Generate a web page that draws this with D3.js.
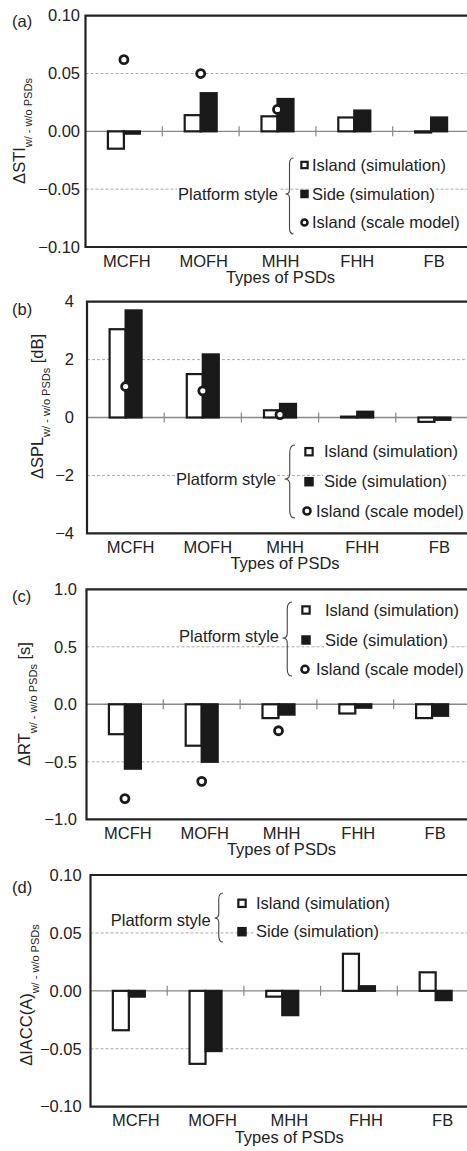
<!DOCTYPE html>
<html>
<head>
<meta charset="utf-8">
<script src="https://cdn.jsdelivr.net/npm/d3@7"></script>
<style>
  html, body { margin: 0; padding: 0; background: #fff; }
  svg { display: block; overflow: hidden; }
  text { font-family: "Liberation Sans", Arial, Helvetica, sans-serif; fill: #222; }
</style>
</head>
<body>
<svg id="chart" width="467" height="1151"></svg>
<script>
// ---------------- DATA ----------------
const categories = ["MCFH", "MOFH", "MHH", "FHH", "FB"];
const seriesLabels = ["Island (simulation)", "Side (simulation)", "Island (scale model)"];
const legendTitle = "Platform style";
const xTitle = "Types of PSDs";

// (a) ΔSTI
const stiIsland = [-0.015, 0.014, 0.013, 0.012, -0.001];
const stiSide   = [-0.002, 0.033, 0.028, 0.018, 0.012];
const stiModel  = [0.062, 0.050, 0.019, null, null];
const stiTicks = [0.10, 0.05, 0, -0.05, -0.10];
const stiTickLabels = ["0.10", "0.05", "0.00", "\u22120.05", "\u22120.10"];

// (b) ΔSPL [dB]
const splIsland = [3.05, 1.50, 0.25, 0.03, -0.15];
const splSide   = [3.70, 2.18, 0.47, 0.20, -0.08];
const splModel  = [1.07, 0.92, 0.10, null, null];
const splTicks = [4, 2, 0, -2, -4];
const splTickLabels = ["4", "2", "0", "\u22122", "\u22124"];

// (c) ΔRT [s]
const rtIsland = [-0.26, -0.36, -0.12, -0.08, -0.12];
const rtSide   = [-0.56, -0.50, -0.09, -0.03, -0.10];
const rtModel  = [-0.82, -0.67, -0.23, null, null];
const rtTicks = [1.0, 0.5, 0, -0.5, -1.0];
const rtTickLabels = ["1.0", "0.5", "0.0", "\u22120.5", "\u22121.0"];

// (d) ΔIACC(A)
const iaccIsland = [-0.034, -0.063, -0.005, 0.032, 0.016];
const iaccSide   = [-0.005, -0.052, -0.021, 0.004, -0.008];
const iaccTicks = [0.10, 0.05, 0, -0.05, -0.10];
const iaccTickLabels = ["0.10", "0.05", "0.00", "\u22120.05", "\u22120.10"];

// ---------------- LAYOUT ----------------
const FS = 16.5, LFS = 16.5, SUB = 11;
const panels = [
  { tag: "(a)", tagY: 26.5, left: 85.5, band: 76.8, top: 15.7, bottom: 247,
    domain: [-0.10, 0.10], ticks: stiTicks, tickLabels: stiTickLabels, labelEnd: 80,
    island: stiIsland, side: stiSide, model: stiModel,
    title: ["\u0394STI", "w/ - w/o PSDs", ""], titleX: 25, titleY: 131, catDx: 3,
    legend: { px: 278, py: 194, brace: [285.5, 293.5, 158, 234, 194], msize: 8.5,
      items: [{ k: 0, mx: 304.5, y: 165, tx: 312 }, { k: 1, mx: 304.5, y: 194, tx: 312 }, { k: 2, mx: 304.5, y: 222.5, tx: 312 }] } },
  { tag: "(b)", tagY: 315, left: 87, band: 77.2, top: 301.7, bottom: 533.3,
    domain: [-4, 4], ticks: splTicks, tickLabels: splTickLabels, labelEnd: 74,
    island: splIsland, side: splSide, model: splModel,
    title: ["\u0394SPL", "w/ - w/o PSDs", " [dB]"], titleX: 43, titleY: 406.5, catDx: 5,
    legend: { px: 276, py: 479, brace: [284.5, 295, 445, 518, 479], msize: 9.5,
      items: [{ k: 0, mx: 309, y: 451.7, tx: 324 }, { k: 1, mx: 309, y: 481.7, tx: 324 }, { k: 2, mx: 307, y: 511, tx: 316 }] } },
  { tag: "(c)", tagY: 601.5, left: 86.5, band: 76.8, top: 589.3, bottom: 819.3,
    domain: [-1, 1], ticks: rtTicks, tickLabels: rtTickLabels, labelEnd: 77,
    island: rtIsland, side: rtSide, model: rtModel,
    title: ["\u0394RT", "w/ - w/o PSDs", " [s]"], titleX: 30, titleY: 704, catDx: 3,
    legend: { px: 279, py: 636.7, brace: [282.5, 292, 602, 676, 638], msize: 9.5,
      items: [{ k: 0, mx: 306, y: 610, tx: 325 }, { k: 1, mx: 306, y: 640, tx: 325 }, { k: 2, mx: 305, y: 669.3, tx: 316 }] } },
  { tag: "(d)", tagY: 893, left: 90.5, band: 76.7, top: 875, bottom: 1106.7,
    domain: [-0.10, 0.10], ticks: iaccTicks, tickLabels: iaccTickLabels, labelEnd: 81.7,
    island: iaccIsland, side: iaccSide, model: null,
    title: ["\u0394IACC(A)", "w/ - w/o PSDs", ""], titleX: 31.5, titleY: 995, catDx: 7,
    legend: { px: 210.7, py: 920, brace: [214.5, 223, 893, 942, 918], msize: 9.5,
      items: [{ k: 0, mx: 242, y: 903.3, tx: 256 }, { k: 1, mx: 242, y: 931.7, tx: 256 }] } }
];

const svg = d3.select("#chart");
const BAR_W = 16;

panels.forEach(p => {
  const g = svg.append("g");
  const right = p.left + p.band * categories.length;
  const x = d3.scaleBand().domain(categories).range([p.left, right]).padding(0);
  const sub = d3.scaleBand().domain(["island", "side"])
    .range([x.bandwidth() / 2 - BAR_W, x.bandwidth() / 2 + BAR_W]).padding(0);
  const y = d3.scaleLinear().domain(p.domain).range([p.bottom, p.top]);

  // dashed gridlines (interior non-zero ticks)
  g.selectAll(".grid").data(p.ticks.filter(t => t !== 0 && t !== p.domain[0] && t !== p.domain[1]))
    .enter().append("line")
    .attr("x1", p.left).attr("x2", right + 10)
    .attr("y1", d => y(d)).attr("y2", d => y(d))
    .attr("stroke", "#aaa").attr("stroke-width", 1).attr("stroke-dasharray", "3,2");

  // zero line + band separators
  g.append("line").attr("x1", p.left).attr("x2", right + 10)
    .attr("y1", y(0)).attr("y2", y(0)).attr("stroke", "#888").attr("stroke-width", 1.4);
  g.selectAll(".sep").data(categories.slice(1)).enter().append("line")
    .attr("x1", d => x(d)).attr("x2", d => x(d))
    .attr("y1", y(0) - 5).attr("y2", y(0) + 5)
    .attr("stroke", "#888").attr("stroke-width", 1.2);

  // y axis labels
  const yAxis = d3.axisLeft(y).tickValues(p.ticks).tickSize(0)
    .tickPadding(p.left - p.labelEnd)
    .tickFormat((d, i) => p.tickLabels[i]);
  const ya = g.append("g").attr("transform", `translate(${p.left},0)`).call(yAxis);
  ya.select(".domain").remove();
  ya.selectAll("text").style("font-size", FS + "px")
    .style("font-family", "'Liberation Sans', Arial, sans-serif").attr("fill", "#222");

  // x axis labels
  const xAxis = d3.axisBottom(x).tickSize(0).tickPadding(0);
  const xa = g.append("g").attr("transform", `translate(${p.catDx},${p.bottom + 19.5})`).call(xAxis);
  xa.select(".domain").remove();
  xa.selectAll("text").attr("dy", 0).attr("y", 0).style("font-size", FS + "px")
    .style("font-family", "'Liberation Sans', Arial, sans-serif").attr("fill", "#222");

  // x title
  g.append("text").attr("x", (p.left + right) / 2 + p.catDx).attr("y", p.bottom + 36)
    .attr("text-anchor", "middle").style("font-size", FS + "px").text(xTitle);

  // y title
  const yt = g.append("text")
    .attr("transform", `translate(${p.titleX},${p.titleY}) rotate(-90)`)
    .attr("text-anchor", "middle").style("font-size", FS + "px");
  yt.append("tspan").text(p.title[0]);
  yt.append("tspan").attr("dy", 7).style("font-size", SUB + "px").text(p.title[1]);
  if (p.title[2]) yt.append("tspan").attr("dy", -7).style("font-size", FS + "px").text(p.title[2]);

  // panel tag
  g.append("text").attr("x", 12).attr("y", p.tagY).style("font-size", FS + "px").text(p.tag);

  // legend
  const L = p.legend;
  const lg = g.append("g");
  function bgText(tx, ty, txt, anchor) {
    const t = lg.append("text").attr("x", tx).attr("y", ty).attr("dy", "0.35em")
      .attr("text-anchor", anchor).style("font-size", LFS + "px").text(txt);
    const bb = t.node().getBBox();
    lg.insert("rect", "text").attr("x", bb.x - 1).attr("y", bb.y).attr("width", bb.width + 2)
      .attr("height", bb.height).attr("fill", "#fff");
    return t;
  }
  bgText(L.px, L.py, legendTitle, "end");
  const [tipX, rX, bTop, bBot, bMid] = L.brace;
  const xm = (tipX + rX) / 2, r = rX - xm;
  lg.append("path")
    .attr("d", `M${rX},${bTop} Q${xm},${bTop} ${xm},${bTop + r * 1.5} L${xm},${bMid - r} Q${xm},${bMid} ${tipX},${bMid} Q${xm},${bMid} ${xm},${bMid + r} L${xm},${bBot - r * 1.5} Q${xm},${bBot} ${rX},${bBot}`)
    .attr("fill", "none").attr("stroke", "#444").attr("stroke-width", 1.1);
  L.items.forEach(it => {
    const s = L.msize;
    if (it.k === 0) {
      lg.append("rect").attr("x", it.mx - s / 2 + 1.1).attr("y", it.y - s / 2 + 1.1)
        .attr("width", s - 2.2).attr("height", s - 2.2)
        .attr("fill", "#fff").attr("stroke", "#1a1a1a").attr("stroke-width", 2.2);
    } else if (it.k === 1) {
      lg.append("rect").attr("x", it.mx - s / 2).attr("y", it.y - s / 2)
        .attr("width", s).attr("height", s).attr("fill", "#1a1a1a");
    } else {
      lg.append("circle").attr("cx", it.mx).attr("cy", it.y).attr("r", s / 2 - 1.2)
        .attr("fill", "#fff").attr("stroke", "#1a1a1a").attr("stroke-width", 2.5);
    }
    bgText(it.tx, it.y, seriesLabels[it.k], "start");
  });

  // bars
  const rows = categories.map((c, i) => ({ c, island: p.island[i], side: p.side[i], model: p.model ? p.model[i] : null }));
  g.selectAll(".bi").data(rows).enter().append("rect")
    .attr("x", d => x(d.c) + sub("island"))
    .attr("width", sub.bandwidth())
    .attr("y", d => Math.min(y(d.island), y(0)))
    .attr("height", d => Math.max(0.5, Math.abs(y(d.island) - y(0))))
    .attr("fill", "#fff").attr("stroke", "#1a1a1a").attr("stroke-width", 2.2);
  g.selectAll(".bs").data(rows).enter().append("rect")
    .attr("x", d => x(d.c) + sub("side"))
    .attr("width", sub.bandwidth())
    .attr("y", d => Math.min(y(d.side), y(0)))
    .attr("height", d => Math.max(0.5, Math.abs(y(d.side) - y(0))))
    .attr("fill", "#1a1a1a").attr("stroke", "#1a1a1a").attr("stroke-width", 2.2);

  // scale-model points
  g.selectAll(".pm").data(rows.filter(d => d.model !== null)).enter().append("circle")
    .attr("cx", d => x(d.c) + x.bandwidth() / 2)
    .attr("cy", d => y(d.model))
    .attr("r", 4)
    .attr("fill", "#fff").attr("stroke", "#1a1a1a").attr("stroke-width", 2.8);

  // frame (left, top, bottom; right side runs off the page)
  g.append("path")
    .attr("d", `M${right + 20},${p.top} L${p.left},${p.top} L${p.left},${p.bottom} L${right + 20},${p.bottom}`)
    .attr("fill", "none").attr("stroke", "#222").attr("stroke-width", 2.2);
});
</script>
</body>
</html>
